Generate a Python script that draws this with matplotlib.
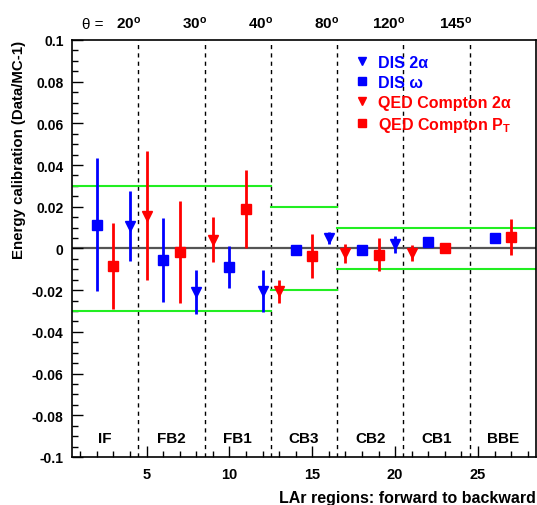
import matplotlib as mpl
mpl.use("Agg")
import matplotlib.pyplot as plt
from matplotlib.lines import Line2D
import numpy as np

plt.rcParams['font.family'] = ['Liberation Sans', 'DejaVu Sans']
plt.rcParams['font.weight'] = 'bold'
plt.rcParams['axes.labelweight'] = 'bold'
plt.rcParams['mathtext.fontset'] = 'custom'
plt.rcParams['mathtext.rm'] = 'Liberation Sans:bold'
plt.rcParams['mathtext.bf'] = 'Liberation Sans:bold'
plt.rcParams['mathtext.it'] = 'Liberation Sans:bold'

# DIS 2alpha (blue triangles)
dis2a_x = [4, 8, 12, 16, 20]
dis2a_y = [0.011, -0.021, -0.0205, 0.005, 0.002]
dis2a_e = [0.0168, 0.0105, 0.0101, 0.003, 0.004]

# DIS omega (blue squares)
disw_x = [2, 6, 10, 14, 18, 22, 26]
disw_y = [0.0114, -0.0055, -0.009, -0.0009, -0.0009, 0.003, 0.005]
disw_e = [0.032, 0.020, 0.010, 0.0015, 0.0015, 0.0015, 0.0015]

# QED Compton 2alpha (red triangles)
qed2a_x = [5, 9, 13, 17, 21]
qed2a_y = [0.0157, 0.0042, -0.0205, -0.0023, -0.002]
qed2a_e = [0.031, 0.0108, 0.0055, 0.0045, 0.0038]

# QED Compton PT (red squares)
qedpt_x = [3, 7, 11, 15, 19, 23, 27]
qedpt_y = [-0.0084, -0.0016, 0.0189, -0.0035, -0.003, 0.0, 0.0055]
qedpt_e = [0.0207, 0.0244, 0.0188, 0.0105, 0.008, 0.0015, 0.0084]

# calorimeter wheels and boundaries
regions = ['IF', 'FB2', 'FB1', 'CB3', 'CB2', 'CB1', 'BBE']
borders = [4.5, 8.5, 12.5, 16.5, 20.5, 24.5]
theta_labels = ['20', '30', '40', '80', '120', '145']

# systematic bands: (x from, x to, half width)
band_lo = [0.5, 12.5, 16.5]
band_hi = [12.5, 16.5, 28.5]
band_w = [0.03, 0.02, 0.01]

fig = plt.figure(figsize=(5.37, 5.06), dpi=100)
ax = fig.add_axes([0.134, 0.095, 0.864, 0.824])

blue = '#0000ff'
red = '#ff0000'
green = '#22ee22'

for b in borders:
    ax.axvline(b, color='black', ls=(0, (3, 3)), lw=1.0, zorder=1)
ax.axhline(0, color='#555555', lw=1.6, zorder=1)
for lo, hi, w in zip(band_lo, band_hi, band_w):
    ax.plot([lo, hi], [w, w], color=green, lw=1.5, zorder=2)
    ax.plot([lo, hi], [-w, -w], color=green, lw=1.5, zorder=2)

ax.errorbar(dis2a_x, dis2a_y, yerr=dis2a_e, fmt='v', color=blue, ms=7.5, elinewidth=2, capsize=0, zorder=3)
ax.errorbar(disw_x, disw_y, yerr=disw_e, fmt='s', color=blue, ms=6.5, elinewidth=2, capsize=0, zorder=3)
ax.errorbar(qed2a_x, qed2a_y, yerr=qed2a_e, fmt='v', color=red, ms=7.5, elinewidth=2, capsize=0, zorder=3)
ax.errorbar(qedpt_x, qedpt_y, yerr=qedpt_e, fmt='s', color=red, ms=6.5, elinewidth=2, capsize=0, zorder=3)

ax.set_xlim(0.5, 28.5)
ax.set_ylim(-0.1, 0.1)

ax.set_xticks([5, 10, 15, 20, 25])
ax.set_xticks(np.arange(1, 29), minor=True)
ax.set_yticks(np.round(np.arange(-0.1, 0.101, 0.02), 2))
ax.set_yticks(np.round(np.arange(-0.1, 0.101, 0.005), 3), minor=True)
ax.set_yticklabels(['%g' % v for v in np.round(np.arange(-0.1, 0.101, 0.02), 2)])
ax.tick_params(which='both', direction='in', width=1)
ax.tick_params(axis='y', labelsize=10, pad=6)
ax.tick_params(axis='x', labelsize=10.5, pad=7)
ax.tick_params(which='major', length=8)
ax.tick_params(which='minor', length=4)
for s in ax.spines.values():
    s.set_linewidth(1.2)

ax.set_xlabel('LAr regions: forward to backward', fontsize=11.5, loc='right', labelpad=7)
ax.set_ylabel('Energy calibration (Data/MC-1)', fontsize=10.8, loc='top', labelpad=4)

for i, name in enumerate(regions):
    ax.text(2.5 + 4 * i, -0.091, name, ha='center', va='center', fontsize=11)

for b, t in zip(borders, theta_labels):
    ax.text(b + 0.15, 0.1045, r'$%s^{o}$' % t, ha='right', va='bottom', fontsize=11)
ax.text(1.75, 0.1045, '\u03b8 =', ha='center', va='bottom', fontsize=11, fontweight='normal')

handles = [
    Line2D([], [], ls='none', marker='v', color=blue, ms=6),
    Line2D([], [], ls='none', marker='s', color=blue, ms=5.5),
    Line2D([], [], ls='none', marker='v', color=red, ms=6),
    Line2D([], [], ls='none', marker='s', color=red, ms=5.5),
]
labels = ['DIS 2\u03b1', 'DIS \u03c9', 'QED Compton 2\u03b1', r'QED Compton P$_{T}$']
leg = ax.legend(handles, labels, loc='upper left', bbox_to_anchor=(0.595, 0.98),
                frameon=False, fontsize=11.5, handlelength=0.9, handletextpad=0.55,
                labelspacing=0.32, borderaxespad=0)
for txt, c in zip(leg.get_texts(), [blue, blue, red, red]):
    txt.set_color(c)

fig.savefig('out.png', dpi=100)
